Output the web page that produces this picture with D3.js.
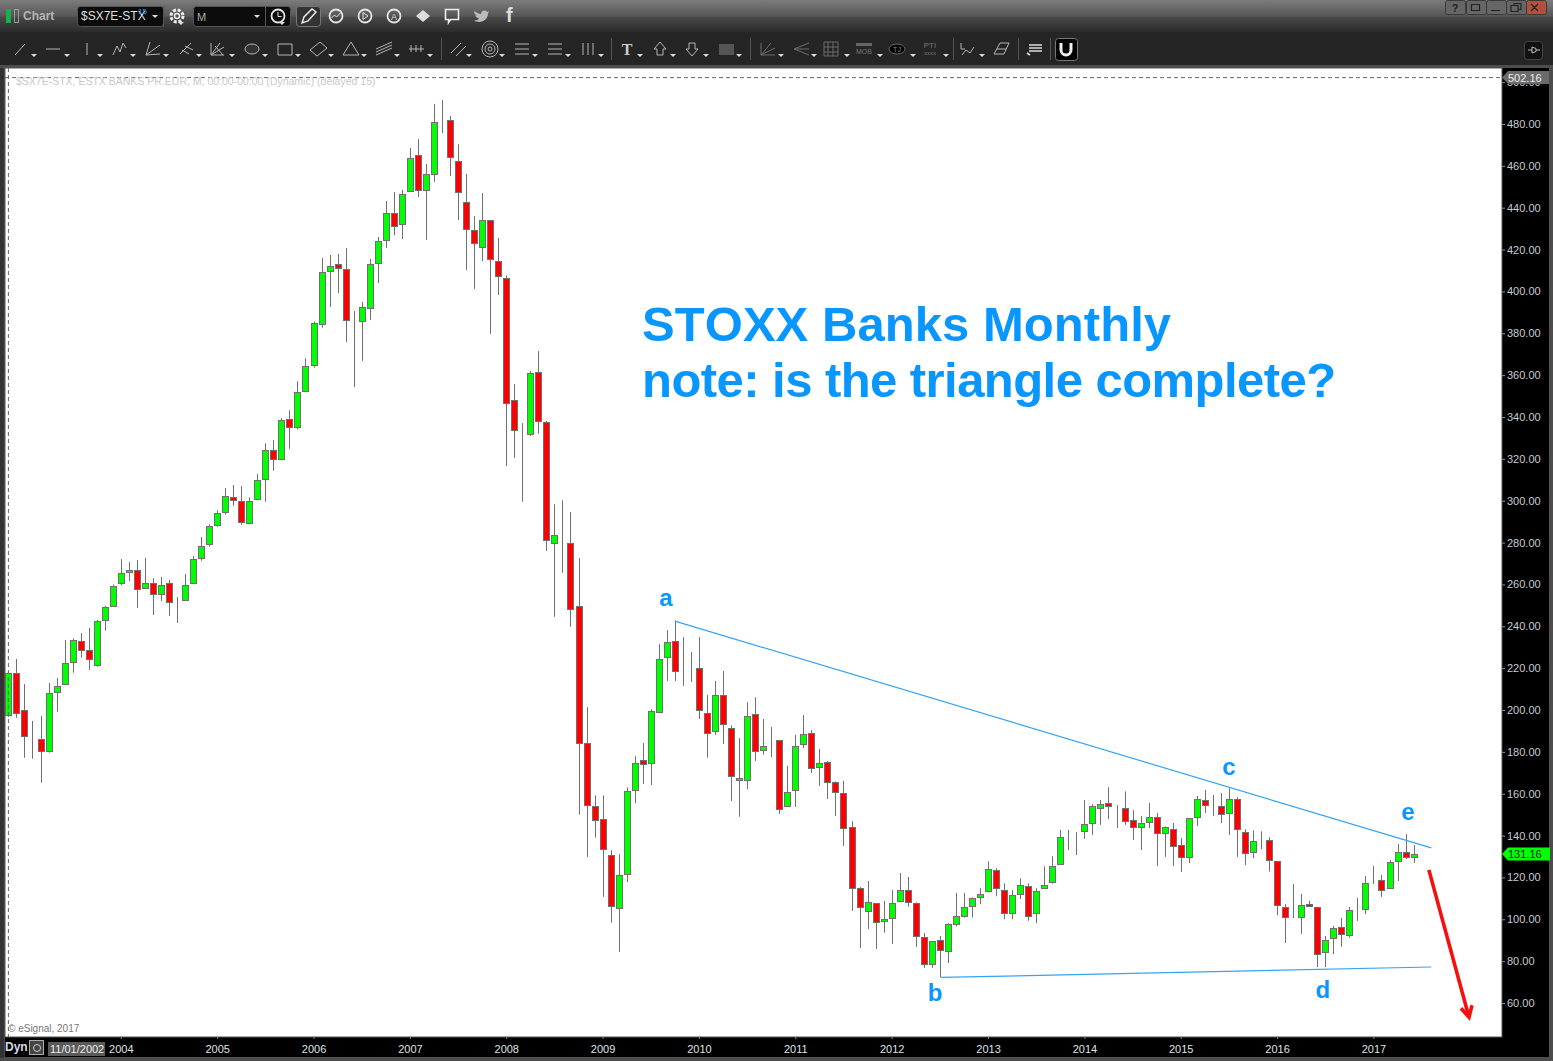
<!DOCTYPE html>
<html>
<head>
<meta charset="utf-8">
<title>STOXX Banks Monthly</title>
<script src="https://cdn.jsdelivr.net/npm/d3@7"></script>
<style>
  body { margin: 0; background: #4a4a4a; overflow: hidden; }
  svg { display: block; font-family: "Liberation Sans", Arial, sans-serif; }
</style>
</head>
<body>
<div id="container"></div>
<script>
let w = 1553;
let h = 1061;

//monthly candles, first one is 11/01/2002
let opens = [197.5,217.5,199.9,186.8,186.0,180.1,208.5,212.3,222.8,232.8,228.5,221.4,242.9,249.4,260.3,265.8,266.8,258.0,260.5,255.6,260.5,251.8,252.9,260.3,272.5,279.2,288.3,294.5,301.9,299.7,289.7,300.7,310.2,324.1,319.8,338.9,335.1,352.1,364.7,384.3,409.6,412.9,410.6,384.9,385.7,391.9,413.4,424.4,437.3,432.1,447.8,465.0,448.3,455.9,480.9,481.7,462.2,442.6,429.2,421.1,434.0,414.4,406.3,347.9,332.3,331.6,361.3,337.5,280.0,281.3,280.0,249.8,184.4,154.3,147.7,130.5,105.2,121.8,161.9,175.9,174.3,199.1,225.4,233.1,217.7,219.2,219.9,198.4,189.8,207.0,191.3,166.4,166.4,197.9,180.7,183.8,185.5,154.0,161.6,183.6,188.9,172.6,175.0,165.5,160.2,144.0,114.8,103.8,107.6,99.0,100.5,108.6,113.9,107.6,91.4,78.5,90.0,84.7,97.6,101.4,106.2,110.5,113.4,123.4,113.9,102.9,112.0,115.8,102.9,114.8,117.7,126.3,139.3,140.9,142.0,145.9,153.0,155.4,153.3,153.0,147.3,144.0,146.4,148.7,141.1,143.0,135.4,129.6,148.7,156.9,153.6,154.0,150.7,157.3,141.6,132.0,137.6,137.7,127.7,106.0,100.8,100.9,107.2,105.7,84.2,90.9,96.2,92.4,104.4,104.8,117.3,118.6,114.8,127.7,132.0,129.6];
let highs = [217.7,224.4,212.4,194.8,197.1,212.9,215.3,233.4,234.2,236.8,239.2,243.0,249.7,260.0,272.1,270.7,271.7,272.6,263.0,263.6,262.1,254.0,265.0,273.6,282.7,288.7,295.4,306.1,307.5,307.0,301.6,312.8,327.4,329.0,339.5,343.2,357.1,368.0,385.7,416.0,417.4,417.9,420.7,390.6,394.9,415.5,426.0,443.2,447.5,448.5,468.5,472.8,460.9,489.6,491.5,483.8,470.3,456.1,436.0,447.0,434.0,425.5,407.7,355.8,337.1,362.0,371.5,338.1,298.3,300.2,294.6,272.6,201.4,159.2,159.2,133.0,131.1,163.0,177.9,184.2,200.4,231.4,238.2,242.8,234.8,227.7,234.8,207.2,213.9,218.6,192.7,186.6,203.7,206.1,195.7,191.9,185.5,173.3,188.1,197.6,190.4,181.4,175.6,165.9,166.1,146.9,115.4,118.3,107.6,108.8,114.0,122.1,120.2,108.1,93.5,89.5,92.0,98.1,112.6,112.6,110.5,114.9,127.7,124.4,117.2,113.9,119.6,117.2,114.8,125.3,130.1,142.7,142.7,141.6,157.0,155.0,157.0,163.1,154.5,161.1,152.1,149.4,155.6,150.8,144.4,146.0,138.8,148.2,158.9,161.8,159.4,160.4,162.6,158.4,143.0,142.5,142.0,139.2,127.7,107.2,116.9,112.1,108.8,105.9,92.0,96.8,100.6,105.9,110.2,120.7,125.5,121.2,128.3,136.0,140.7,135.5];
let lows = [196.7,196.3,177.2,176.7,165.3,179.6,199.2,212.3,217.8,225.0,219.1,220.7,237.9,249.4,259.7,261.6,248.7,258.0,245.4,252.1,244.9,241.6,252.9,260.3,271.3,278.0,287.6,293.3,297.6,288.5,289.7,300.7,299.5,314.3,319.8,324.8,334.1,352.1,363.6,382.7,392.6,399.2,375.8,354.3,366.8,386.3,404.0,420.7,426.9,425.0,447.8,445.1,424.6,452.3,475.7,455.1,434.1,410.2,401.2,414.5,379.7,398.3,316.6,320.5,299.5,330.9,332.0,276.0,244.5,265.6,239.8,150.0,129.8,139.0,110.7,98.4,84.4,117.8,155.4,164.7,164.2,198.6,213.9,213.9,211.5,213.4,195.7,177.2,188.0,183.8,156.5,149.0,162.2,175.6,178.7,177.5,150.3,154.0,153.7,181.8,169.9,163.7,157.5,149.4,135.0,104.0,86.3,95.4,85.8,93.6,88.2,108.6,106.0,86.8,76.8,76.8,72.4,79.1,96.6,100.9,100.9,107.2,113.4,111.0,100.0,100.0,109.7,99.3,98.1,114.8,117.0,126.3,133.1,130.7,138.4,140.3,145.1,147.9,143.6,145.1,137.9,133.1,143.6,125.5,129.8,125.5,122.6,126.9,144.6,150.8,149.4,146.0,140.3,129.8,125.9,129.3,133.5,122.8,102.0,88.7,100.6,93.0,106.0,77.2,77.2,83.4,86.9,91.2,99.2,102.5,116.9,110.7,114.8,118.3,128.8,126.9];
let closes = [217.5,198.4,187.4,186.8,180.3,208.0,211.3,222.3,233.3,228.5,224.2,242.4,249.1,259.1,265.3,266.8,257.7,260.5,255.3,259.9,251.5,251.8,259.9,272.0,278.2,287.8,294.0,302.1,300.7,289.7,300.1,309.8,324.1,319.8,338.4,335.1,351.8,364.2,384.8,409.1,412.0,411.1,386.2,384.9,392.4,412.9,423.9,437.3,431.1,446.4,463.6,448.3,455.9,480.8,480.9,464.1,447.3,429.7,423.0,434.0,415.3,407.2,346.5,333.7,332.3,360.9,338.0,280.9,283.8,281.3,248.4,184.4,154.9,147.7,133.4,106.1,121.2,161.5,174.9,174.0,199.3,224.6,232.7,218.8,217.7,219.2,199.8,188.8,207.0,193.2,168.3,167.4,197.0,180.3,182.7,183.8,152.6,160.7,182.7,188.4,172.2,174.5,165.5,160.7,143.5,114.8,105.7,108.1,98.6,100.0,107.6,113.9,108.1,91.9,78.5,89.5,85.2,97.6,101.4,105.7,110.0,112.0,123.9,114.8,102.9,111.5,116.3,101.4,113.4,116.3,125.3,139.2,139.3,140.9,145.4,154.0,154.9,154.0,153.3,146.8,144.0,145.9,148.7,141.1,144.0,134.9,129.6,148.2,157.3,154.5,153.6,150.2,157.3,143.0,131.5,137.3,137.6,128.2,106.7,101.4,100.8,106.7,106.2,83.3,90.0,95.7,92.8,104.3,104.4,117.2,117.3,113.9,127.2,132.0,129.6,131.16];

let priceTicks = [60,80,100,120,140,160,180,200,220,240,260,280,300,320,340,360,380,400,420,440,460,480,500];
let yearTicks = [2004,2005,2006,2007,2008,2009,2010,2011,2012,2013,2014,2015,2016,2017];
let lastClose = 131.16;
let chartTop = 502.16;

//trend lines and labels, in [month index, price]
let upperLine = [[83.0,242.5],[177.2,134.1]];
let lowerLine = [[116.1,72.2],[177.2,77.2]];
let redArrow = [[176.9,123.6],[181.9,53.2]];
let waveNames = ['a','b','c','d','e'];
let waveSpots = [[81.9,249.5],[115.4,61],[152,169],[163.7,62.4],[174.3,147.4]];

let upColor = '#00ff00';
let downColor = '#ff0000';
let edgeColor = '#707070';
let noteColor = '#0a96ff';
let lineColor = '#35a4f4';

let svg = d3.select('#container').append('svg')
  .attr('width', w)
  .attr('height', h);

let defs = svg.append('defs');
let grad = defs.append('linearGradient').attr('id', 'titlebar')
  .attr('x1', 0).attr('x2', 0).attr('y1', 0).attr('y2', 1);
grad.append('stop').attr('offset', '0%').attr('stop-color', '#7c7c7c');
grad.append('stop').attr('offset', '50%').attr('stop-color', '#575757');
grad.append('stop').attr('offset', '55%').attr('stop-color', '#484848');
grad.append('stop').attr('offset', '100%').attr('stop-color', '#2b2b2b');

//window chrome
svg.append('rect').attr('width', w).attr('height', h).attr('fill', '#4d4d4d');
svg.append('rect').attr('width', w).attr('height', 32).attr('fill', 'url(#titlebar)');
svg.append('rect').attr('y', 32).attr('width', w).attr('height', 33).attr('fill', '#252525');
svg.append('rect').attr('x', 0).attr('y', 68).attr('width', 4).attr('height', 990).attr('fill', '#333');

//plot area
let plotLeft = 5, plotRight = 1502, plotTop = 68, plotBottom = 1037;
svg.append('rect').attr('x', plotRight).attr('y', plotTop).attr('width', 47).attr('height', 989).attr('fill', '#000');
svg.append('rect').attr('x', plotLeft).attr('y', plotBottom).attr('width', 1544).attr('height', 20).attr('fill', '#000');
svg.append('rect').attr('x', plotLeft).attr('y', plotTop)
  .attr('width', plotRight - plotLeft).attr('height', plotBottom - plotTop).attr('fill', '#fff');

let x = d3.scaleLinear().domain([0, 175]).range([8.4, 1413.6]);
let y = d3.scaleLinear().domain([60, 480]).range([1003, 124]);

function monthOfYear(year) {
  return (year - 2002) * 12 - 10;
}

//price axis
let yAxis = d3.axisRight(y).tickValues(priceTicks).tickFormat(d3.format('.2f')).tickSize(3).tickPadding(2);
let yG = svg.append('g').attr('transform', 'translate(' + plotRight + ',0)').call(yAxis);
yG.select('.domain').remove();
yG.selectAll('line').attr('stroke', '#999');
yG.selectAll('text').attr('fill', '#c4ccd4').style('font-size', '11px').style('font-family', '"Liberation Sans", Arial');

//time axis
let xAxis = d3.axisBottom(x).tickValues(yearTicks.map(monthOfYear))
  .tickFormat(function(d, i) { return yearTicks[i]; }).tickSize(2).tickPadding(6);
let xG = svg.append('g').attr('transform', 'translate(0,' + plotBottom + ')').call(xAxis);
xG.select('.domain').remove();
xG.selectAll('line').attr('stroke', '#999');
xG.selectAll('text').attr('fill', '#dfe3e6').style('font-size', '11px').style('font-family', '"Liberation Sans", Arial');

//frame under the chart
svg.append('rect').attr('x', plotLeft).attr('y', plotTop).attr('width', plotRight - plotLeft)
  .attr('height', plotBottom - plotTop).attr('fill', 'none').attr('stroke', '#555');

//crosshair
svg.append('line').attr('x1', plotLeft).attr('x2', plotRight).attr('y1', y(chartTop)).attr('y2', y(chartTop))
  .attr('stroke', '#666').attr('stroke-dasharray', '4,3');

//candles
let candles = d3.range(opens.length);
let groups = svg.selectAll('.candle').data(candles).enter().append('g').attr('class', 'candle');

groups.append('line')
  .attr('x1', function(d) { return Math.round(x(d)) + 0.5; })
  .attr('x2', function(d) { return Math.round(x(d)) + 0.5; })
  .attr('y1', function(d) { return y(highs[d]); })
  .attr('y2', function(d) { return y(lows[d]); })
  .attr('stroke', edgeColor)
  .attr('stroke-width', 1);

groups.append('rect')
  .attr('x', function(d) { return Math.round(x(d)) - 2.5; })
  .attr('width', 6)
  .attr('y', function(d) { return Math.round(y(Math.max(opens[d], closes[d]))) + 0.5; })
  .attr('height', function(d) { return Math.round(Math.abs(y(opens[d]) - y(closes[d]))); })
  .attr('fill', function(d) { return closes[d] > opens[d] ? upColor : downColor; })
  .attr('stroke', edgeColor)
  .attr('stroke-width', 1);

//vertical crosshair goes over the first candle
svg.append('line').attr('x1', x(0)).attr('x2', x(0)).attr('y1', plotTop).attr('y2', plotBottom)
  .attr('stroke', '#666').attr('stroke-dasharray', '4,3');

//hand drawn lines
function drawLine(pts, color, width) {
  return svg.append('line')
    .attr('x1', x(pts[0][0])).attr('y1', y(pts[0][1]))
    .attr('x2', x(pts[1][0])).attr('y2', y(pts[1][1]))
    .attr('stroke', color).attr('stroke-width', width);
}
drawLine(upperLine, lineColor, 1.2);
drawLine(lowerLine, lineColor, 1.2);

drawLine(redArrow, '#f50f0f', 3.6);
let ax = x(redArrow[1][0]), ay = y(redArrow[1][1]);
svg.append('path')
  .attr('d', 'M' + (ax - 8) + ',' + (ay - 9) + 'L' + ax + ',' + ay + 'L' + (ax + 3) + ',' + (ay - 12))
  .attr('fill', 'none').attr('stroke', '#f50f0f').attr('stroke-width', 3.6);

//notes
svg.append('text').attr('x', 642).attr('y', 341).text('STOXX Banks Monthly')
  .attr('fill', noteColor).attr('font-weight', 'bold').attr('font-size', 49)
  .style('font-kerning', 'none').style('letter-spacing', '0.05px');
svg.append('text').attr('x', 642).attr('y', 397).text('note: is the triangle complete?')
  .attr('fill', noteColor).attr('font-weight', 'bold').attr('font-size', 49)
  .style('letter-spacing', '-0.55px');

svg.selectAll('.wave').data(waveNames).enter().append('text')
  .attr('class', 'wave')
  .attr('x', function(d, i) { return x(waveSpots[i][0]); })
  .attr('y', function(d, i) { return y(waveSpots[i][1]); })
  .attr('text-anchor', 'middle')
  .attr('fill', noteColor).attr('font-weight', 'bold').attr('font-size', 24)
  .text(function(d) { return d; });

svg.append('text').attr('x', 16).attr('y', 85).attr('font-size', 10.5).attr('fill', '#c9c9c9')
  .text('$SX7E-STX, ESTX BANKS PR.EUR, M, 00:00-00:00 (Dynamic) (delayed 15)');
svg.append('text').attr('x', 8).attr('y', 1032).attr('font-size', 10).attr('fill', '#777')
  .text('© eSignal, 2017');

//price flags
function flag(value, fill, textColor, right) {
  let py = y(value);
  svg.append('path')
    .attr('d', 'M' + plotRight + ',' + py + 'l6,-6.5H' + right + 'v13H' + (plotRight + 6) + 'z')
    .attr('fill', fill);
  svg.append('text').attr('x', plotRight + 6).attr('y', py + 4).attr('font-size', 11)
    .attr('fill', textColor).text(d3.format('.2f')(value));
}
flag(chartTop, '#6b6b6b', '#eee', 1549);
flag(lastClose, upColor, '#222', 1550);

//date box
svg.append('rect').attr('x', 48).attr('y', 1042).attr('width', 57).attr('height', 14).attr('fill', '#5a5a5a');
svg.append('text').attr('x', 50).attr('y', 1053).attr('font-size', 11).attr('fill', '#eee').text('11/01/2002');
svg.append('text').attr('x', 5).attr('y', 1051).attr('font-size', 12).attr('font-weight', 'bold').attr('fill', '#d5dbe2').text('Dyn');
svg.append('rect').attr('x', 29.5).attr('y', 1040.5).attr('width', 14).attr('height', 14).attr('fill', '#444').attr('stroke', '#aaa');
svg.append('circle').attr('cx', 37).attr('cy', 1048).attr('r', 3.5).attr('fill', 'none').attr('stroke', '#ccc');

//title bar
svg.append('rect').attr('x', 6.5).attr('y', 9.5).attr('width', 4).attr('height', 13).attr('fill', '#18b04a').attr('stroke', '#18b04a');
svg.append('rect').attr('x', 14.5).attr('y', 9.5).attr('width', 4).attr('height', 13).attr('fill', 'none').attr('stroke', '#999');
svg.append('text').attr('x', 23).attr('y', 20).attr('font-size', 12).attr('font-weight', 'bold').attr('fill', '#b5b5b5').text('Chart');

function box(bx, by, bw, bh, fill, stroke) {
  return svg.append('rect').attr('x', bx + 0.5).attr('y', by + 0.5).attr('width', bw).attr('height', bh)
    .attr('rx', 3).attr('fill', fill).attr('stroke', stroke || '#555');
}
function caret(cx, cy, color) {
  svg.append('path').attr('d', 'M' + (cx - 3) + ',' + cy + 'h6l-3,3z').attr('fill', color || '#ddd');
}
box(77, 6, 86, 20, '#0c0c0c');
box(193, 6, 97, 20, '#0c0c0c');
box(296, 6, 24, 20, '#333', '#777');
svg.append('text').attr('x', 81).attr('y', 20).attr('font-size', 12).attr('fill', '#ddd').text('$SX7E-STX');
svg.append('text').attr('x', 138).attr('y', 14).attr('font-size', 8).attr('fill', '#2d9be8').text('15');
caret(155, 15);
svg.append('text').attr('x', 197).attr('y', 21).attr('font-size', 11).attr('fill', '#aaa').text('M');
caret(257, 15);
svg.append('line').attr('x1', 163.5).attr('x2', 163.5).attr('y1', 6).attr('y2', 27).attr('stroke', '#555');
svg.append('line').attr('x1', 265.5).attr('x2', 265.5).attr('y1', 6).attr('y2', 27).attr('stroke', '#555');

//round icons of the title bar
let roundIcons = [278, 336, 365, 394];
svg.selectAll('.roundicon').data(roundIcons).enter().append('circle')
  .attr('class', 'roundicon')
  .attr('cx', function(d) { return d; }).attr('cy', 16).attr('r', 6.5)
  .attr('fill', 'none').attr('stroke', '#e6e6e6').attr('stroke-width', 1.8);
svg.append('circle').attr('cx', 177).attr('cy', 16).attr('r', 6).attr('fill', 'none').attr('stroke', '#eee').attr('stroke-width', 3).attr('stroke-dasharray', '3,1.700');
svg.append('circle').attr('cx', 177).attr('cy', 16).attr('r', 2.5).attr('fill', 'none').attr('stroke', '#eee').attr('stroke-width', 1.5);
caret(181, 22);
caret(282, 22);
svg.append('path').attr('d', 'M278,12v4.5h3.5M363,12.5v7l5,-3.5zM331.5,18l3,-3 2,2 4,-4').attr('fill', 'none').attr('stroke', '#e6e6e6');
svg.append('path').attr('d', 'M302,23l2,-6 8,-8 4,3 -8,9z').attr('fill', 'none').attr('stroke', '#eee').attr('stroke-width', 1.4);
svg.append('text').attr('x', 394).attr('y', 20).attr('text-anchor', 'middle').attr('font-size', 9).attr('fill', '#ddd').text('A');
svg.append('path').attr('d', 'M416,16l7,-6 7,6 -7,6z').attr('fill', '#ddd');
svg.append('path').attr('d', 'M445.5,9.5h13v10h-8l-2,3v-3h-3z').attr('fill', 'none').attr('stroke', '#eee').attr('stroke-width', 1.6);
svg.append('path').attr('d', 'M474,11c3,2 5,3 7,3c0,-3 4,-5 6,-2l2,-1l-1,2.5c0,6 -7,11 -14,7c3,0 4,-1 5,-2c-3,-1 -3,-2 -4,-3h2c-2,-1 -3,-2 -3,-4.500z').attr('fill', '#bbb');
svg.append('text').attr('x', 506).attr('y', 22).attr('font-size', 20).attr('font-weight', 'bold').attr('fill', '#ddd').text('f');

//window buttons
let winButtons = [1445, 1466, 1486, 1506, 1526];
svg.selectAll('.winbtn').data(winButtons).enter().append('rect')
  .attr('class', 'winbtn')
  .attr('x', function(d) { return d + 0.5; }).attr('y', 0.5)
  .attr('width', 20).attr('height', 14).attr('rx', 2)
  .attr('fill', function(d, i) { return i == 4 ? '#b2523c' : '#666'; })
  .attr('stroke', '#3a3a3a');
svg.append('text').attr('x', 1455).attr('y', 12).attr('text-anchor', 'middle').attr('font-size', 11).attr('font-weight', 'bold').attr('fill', '#222').text('?');
svg.append('path').attr('d', 'M1471.500,4.500h8v6h-8zM1491,10.500h9M1511,5.500h7v6h-7zM1514,5.500v-2h7v6h-3M1531,4l7,7M1538,4l-7,7')
  .attr('fill', 'none').attr('stroke', '#222').attr('stroke-width', 1.2);

//drawing toolbar, [x, path] around the centre of each tool
let toolColor = '#b5b5b5';
let tools = [
  [20, 'M-5,6L5,-5'], [53, 'M-7,0H7'], [87, 'M0,-6V6'], [120, 'M-7,6L-3,-3 0,3 3,-6 6,-1'],
  [153, 'M-7,6L-3,-7M-7,6L7,-4M-7,6L7,5'], [186, 'M-6,5L5,-6M-4,1L3,5M-1,-3L7,1'],
  [217, 'M-6,-6V6H7M-6,6L3,-6M-6,6L7,-2M-2,-3L6,6'], [285, 'M-7,-5H7V6H-7Z'],
  [318, 'M-8,1L2,-7 9,-1 -1,7Z'], [351, 'M-8,6L0,-7 8,6Z'], [384, 'M-8,3L8,-4M-8,6L8,-1M-8,0L8,-7'],
  [416, 'M-7,0H8M-5,-4V3M0,-4V3M5,-4V3'], [459, 'M-8,4L2,-6M-3,7L7,-3'],
  [522, 'M-7,-5H7M-7,0H7M-7,5H7'], [555, 'M-7,-5H7M-7,0H7M-7,5H7'], [588, 'M-5,-6V6M0,-6V6M5,-6V6'],
  [660, 'M0,-7L6,0H3V6H-3V0H-6Z'], [692, 'M0,7L6,0H3V-6H-3V0H-6Z'],
  [968, 'M-7,-6V0H-3M-6,6L-2,1 2,4 6,-2'], [1002, 'M-8,5L-2,-6H7L2,5ZM-5,0H4']
];
svg.selectAll('.tool').data(tools).enter().append('path')
  .attr('class', 'tool')
  .attr('transform', function(d) { return 'translate(' + d[0] + ',49)'; })
  .attr('d', function(d) { return d[1]; })
  .attr('fill', 'none').attr('stroke', toolColor);

let dimTools = [
  [768, 'M-7,-6V6H7M-7,6L3,-6M-7,6L7,-1'], [801, 'M8,-6L-7,0 8,6M-7,0H8'],
  [831, 'M-7,-7H7V7H-7ZM-7,-2H7M-7,3H7M-3,-7V7M2,-7V7']
];
svg.selectAll('.dimtool').data(dimTools).enter().append('path')
  .attr('class', 'dimtool')
  .attr('transform', function(d) { return 'translate(' + d[0] + ',49)'; })
  .attr('d', function(d) { return d[1]; })
  .attr('fill', 'none').attr('stroke', '#6c6c6c');

svg.append('ellipse').attr('cx', 252).attr('cy', 49).attr('rx', 7).attr('ry', 5).attr('fill', '#333').attr('stroke', toolColor);
[8, 5, 2].forEach(function(r) {
  svg.append('circle').attr('cx', 490).attr('cy', 49).attr('r', r).attr('fill', 'none').attr('stroke', toolColor);
});
svg.append('text').attr('x', 627).attr('y', 55).attr('text-anchor', 'middle').attr('font-size', 16).attr('font-weight', 'bold')
  .attr('font-family', '"Liberation Serif", serif').attr('fill', '#ccc').text('T');
svg.append('rect').attr('x', 719).attr('y', 44).attr('width', 15).attr('height', 11).attr('fill', '#555');
svg.append('rect').attr('x', 856).attr('y', 43).attr('width', 16).attr('height', 3).attr('fill', '#666');
svg.append('text').attr('x', 864).attr('y', 54).attr('text-anchor', 'middle').attr('font-size', 7).attr('fill', '#777').text('MOB');
svg.append('ellipse').attr('cx', 897).attr('cy', 49).attr('rx', 8).attr('ry', 5).attr('fill', '#000').attr('stroke', '#666');
svg.append('text').attr('x', 897).attr('y', 52).attr('text-anchor', 'middle').attr('font-size', 7).attr('fill', '#888').text('TJ');
svg.append('text').attr('x', 930).attr('y', 48).attr('text-anchor', 'middle').attr('font-size', 8).attr('fill', '#777').text('PTI');
svg.append('text').attr('x', 930).attr('y', 55).attr('text-anchor', 'middle').attr('font-size', 6).attr('fill', '#777').text('xxxx');
svg.append('path').attr('d', 'M1029,45h13M1029,48h13M1029,51h13M1027,53l3,2').attr('fill', 'none').attr('stroke', '#ddd').attr('stroke-width', 1.6);

//little carets next to the tools
let caretSpots = [34, 67, 100, 133, 166, 199, 232, 265, 298, 331, 364, 397, 430, 469, 502, 535, 568, 601, 640, 673, 706, 739, 781, 814, 847, 880, 913, 946, 982];
caretSpots.forEach(function(c) { caret(c, 54); });

let seps = [441, 611, 750, 953, 1018, 1050];
seps.forEach(function(s) {
  svg.append('line').attr('x1', s + 0.5).attr('x2', s + 0.5).attr('y1', 38).attr('y2', 60).attr('stroke', '#555');
});

box(1055, 38, 22, 22, '#000', '#777');
svg.append('path').attr('d', 'M1061,43v7a5,5 0 0 0 10,0v-7').attr('fill', 'none').attr('stroke', '#eee').attr('stroke-width', 3);
box(1524, 41, 18, 18, '#111', '#444');
svg.append('path').attr('d', 'M1528,50h4M1532,47v6l4,-1.500v-3zM1536,50h4').attr('fill', 'none').attr('stroke', '#bbb');
</script>
</body>
</html>
